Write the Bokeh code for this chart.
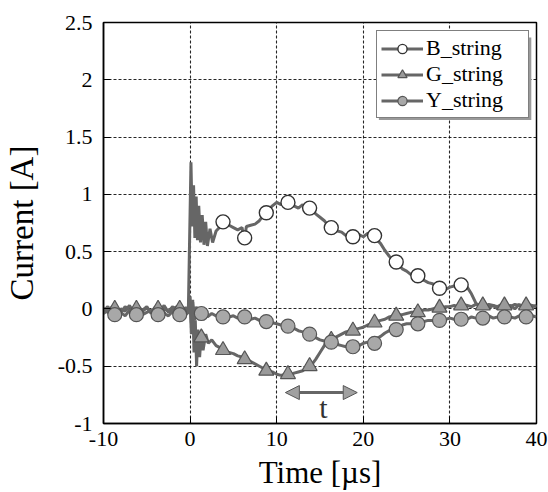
from bokeh.plotting import figure
from bokeh.models import (Range1d, FixedTicker, Legend, LegendItem, Arrow, NormalHead, Label, BoxAnnotation)
from bokeh.embed import file_html
from bokeh.resources import INLINE

# ---------------- data ----------------
x_ticks = [-10, 0, 10, 20, 30, 40]
x_tick_labels = ["-10", "0", "10", "20", "30", "40"]
y_ticks = [-1, -0.5, 0, 0.5, 1, 1.5, 2, 2.5]
y_tick_labels = ["-1", "-0.5", "0", "0.5", "1", "1.5", "2", "2.5"]
series_names = ["B_string", "G_string", "Y_string"]

B_t = [-10, -9.5, -9, -8.5, -8, -7.5, -7, -6.5, -6, -5.5, -5, -4.5, -4, -3.5, -3, -2.5, -2, -1.5, -1, -0.5,
       -0.2, 0.0, 0.1, 0.25, 0.4, 0.55, 0.7, 0.85, 1.0, 1.2, 1.4, 1.6, 1.8, 2.0, 2.3, 2.6, 3.0,
       3.5, 4.0, 4.5, 5.0, 5.5, 6.0, 6.25,
       6.5, 7, 7.5, 8, 8.5, 9, 9.5, 10, 10.5, 11,
       11.5, 12, 12.5, 13, 13.5, 14, 14.5, 15, 15.5, 16,
       16.5, 17, 17.5, 18, 18.5, 19, 19.5, 20, 20.5, 21,
       21.5, 22, 22.5, 23, 23.5, 24, 24.5, 25, 25.5, 26,
       26.5, 27, 27.5, 28, 28.5, 29, 29.5, 30, 30.5, 31,
       31.5, 32, 32.5, 33, 33.5,
       34, 34.5, 35, 35.5, 36, 36.5, 37, 37.5, 38, 38.5, 39, 39.5, 40]
B_i = [0.01, -0.03, 0.02, -0.04, 0.0, -0.02, 0.03, -0.03, 0.01, -0.01, 0.02, -0.04, 0.01, -0.02, 0.03, -0.03, 0.0, 0.02, -0.02, 0.01,
       0.0, 0.85, 1.28, 0.72, 1.08, 0.62, 0.98, 0.6, 0.9, 0.58, 0.82, 0.56, 0.76, 0.55, 0.7, 0.58, 0.68,
       0.72, 0.76, 0.73, 0.71, 0.69, 0.71, 0.6,
       0.72, 0.73, 0.74, 0.77, 0.82, 0.86, 0.9, 0.93, 0.91, 0.94,
       0.92, 0.9, 0.88, 0.91, 0.86, 0.88, 0.83, 0.8, 0.77, 0.72,
       0.73, 0.68, 0.67, 0.64, 0.63, 0.66, 0.65, 0.63, 0.66, 0.65,
       0.61, 0.57, 0.51, 0.46, 0.42, 0.39, 0.35, 0.33, 0.3, 0.29,
       0.26, 0.25, 0.23, 0.22, 0.19, 0.18, 0.17, 0.19, 0.2, 0.21,
       0.2, 0.19, 0.13, 0.05, 0.02,
       0.04, 0.01, 0.03, 0.0, 0.04, 0.02, 0.03, 0.0, 0.04, 0.01, 0.03, 0.02, 0.03]

G_t = [-10, -9.5, -9, -8.5, -8, -7.5, -7, -6.5, -6, -5.5, -5, -4.5, -4, -3.5, -3, -2.5, -2, -1.5, -1, -0.5,
       -0.2, 0.0, 0.15, 0.3, 0.45, 0.6, 0.75, 0.9, 1.1, 1.3, 1.5, 1.8, 2.1, 2.5,
       3, 3.5, 4, 4.5, 5, 5.5, 6, 6.5, 7, 7.5,
       8, 8.5, 9, 9.5, 10, 10.5, 11, 11.5, 12, 12.5,
       13, 13.5, 14, 14.5, 15, 15.5, 16, 16.5, 17, 17.5,
       18, 18.5, 19, 19.5, 20, 20.5, 21, 21.5, 22, 22.5,
       23, 23.5, 24, 24.5, 25, 25.5, 26, 26.5, 27, 27.5,
       28, 28.5, 29, 29.5, 30, 30.5, 31, 31.5, 32, 32.5,
       33, 33.5, 34, 34.5, 35, 35.5, 36, 36.5, 37, 37.5,
       38, 38.5, 39, 39.5, 40]
G_i = [-0.02, 0.02, -0.04, 0.01, -0.03, 0.02, -0.01, -0.04, 0.02, -0.02, 0.01, -0.03, 0.02, -0.04, 0.0, -0.02, 0.02, -0.03, 0.01, -0.02,
       -0.02, 0.05, -0.22, 0.08, -0.38, -0.1, -0.5, -0.18, -0.42, -0.2, -0.36, -0.22, -0.3, -0.27,
       -0.32, -0.34, -0.36, -0.38, -0.39, -0.41, -0.42, -0.44, -0.46, -0.48,
       -0.5, -0.52, -0.54, -0.55, -0.57, -0.58, -0.57, -0.58, -0.56, -0.55,
       -0.54, -0.51, -0.49, -0.44, -0.38, -0.32, -0.28, -0.26, -0.24, -0.22,
       -0.2, -0.19, -0.18, -0.17, -0.16, -0.14, -0.13, -0.11, -0.1, -0.09,
       -0.07, -0.06, -0.05, -0.05, -0.04, -0.03, -0.03, -0.02, -0.01, -0.01,
       0.0, 0.01, 0.01, 0.02, 0.02, 0.03, 0.02, 0.04, 0.03, 0.02,
       0.04, 0.03, 0.02, 0.04, 0.03, 0.02, 0.04, 0.03, 0.02, 0.04,
       0.03, 0.02, 0.04, 0.03, 0.02]

Y_t = [-10, -9.5, -9, -8.5, -8, -7.5, -7, -6.5, -6, -5.5, -5, -4.5, -4, -3.5, -3, -2.5, -2, -1.5, -1, -0.5,
       -0.2, 0.0, 0.15, 0.3, 0.5, 0.7, 1.0, 1.5, 2.0, 2.5,
       3, 3.5, 4, 4.5, 5, 5.5, 6, 6.5, 7, 7.5,
       8, 8.5, 9, 9.5, 10, 10.5, 11, 11.5, 12, 12.5,
       13, 13.5, 14, 14.5, 15, 15.5, 16, 16.5, 17, 17.5,
       18, 18.5, 19, 19.5, 20, 20.5, 21, 21.5, 22, 22.5,
       23, 23.5, 24, 24.5, 25, 25.5, 26, 26.5, 27, 27.5,
       28, 28.5, 29, 29.5, 30, 30.5, 31, 31.5, 32, 32.5,
       33, 33.5, 34, 34.5, 35, 35.5, 36, 36.5, 37, 37.5,
       38, 38.5, 39, 39.5, 40]
Y_i = [-0.04, -0.01, -0.05, -0.02, -0.03, -0.06, -0.01, -0.04, -0.02, -0.05, -0.03, -0.01, -0.05, -0.02, -0.04, -0.06, -0.02, -0.04, -0.01, -0.05,
       -0.03, 0.11, -0.12, 0.06, -0.1, 0.02, -0.08, -0.02, -0.07, -0.04,
       -0.06, -0.07, -0.05, -0.07, -0.06, -0.08, -0.07, -0.08, -0.09, -0.08,
       -0.1, -0.11, -0.12, -0.12, -0.13, -0.14, -0.15, -0.16, -0.17, -0.19,
       -0.2, -0.22, -0.23, -0.25, -0.27, -0.28, -0.3, -0.31, -0.31, -0.32,
       -0.33, -0.33, -0.32, -0.32, -0.3, -0.29, -0.28, -0.26, -0.24, -0.21,
       -0.19, -0.17, -0.16, -0.14, -0.13, -0.13, -0.12, -0.11, -0.11, -0.1,
       -0.1, -0.09, -0.1, -0.09, -0.08, -0.09, -0.08, -0.08, -0.09, -0.07,
       -0.08, -0.07, -0.08, -0.06, -0.08, -0.07, -0.08, -0.06, -0.07, -0.08,
       -0.06, -0.07, -0.08, -0.06, -0.07]

# markers (visible ones, roughly every 2.5 us)
B_mk_t = [3.8, 6.3, 8.8, 11.3, 13.8, 16.3, 18.8, 21.3, 23.8, 26.3, 28.8, 31.3]
B_mk = [0.76, 0.62, 0.84, 0.93, 0.88, 0.71, 0.63, 0.64, 0.41, 0.29, 0.18, 0.21]
mk_t = [-8.7, -6.2, -3.7, -1.2, 1.3, 3.8, 6.3, 8.8, 11.3, 13.8, 16.3, 18.8, 21.3, 23.8, 26.3, 28.8, 31.3, 33.8, 36.3, 38.8]
G_mk = [0.0, 0.0, 0.0, 0.0, -0.25, -0.36, -0.44, -0.54, -0.57, -0.5, -0.27, -0.19, -0.12, -0.06, -0.03, 0.01, 0.03, 0.03, 0.03, 0.03]
Y_mk = [-0.05, -0.05, -0.05, -0.05, -0.04, -0.07, -0.07, -0.11, -0.15, -0.22, -0.29, -0.33, -0.3, -0.18, -0.13, -0.1, -0.09, -0.08, -0.07, -0.07]

assert len(B_t) == len(B_i) and len(G_t) == len(G_i) and len(Y_t) == len(Y_i)

SERIF = "Liberation Serif, DejaVu Serif, serif"
LINE = "#666666"

p = figure(width=548, height=492, x_range=Range1d(-10, 40), y_range=Range1d(-1, 2.5),
           output_backend="svg", toolbar_location=None,
           min_border_left=100, min_border_right=12, min_border_top=22, min_border_bottom=62)

p.background_fill_color = "white"
p.outline_line_color = "black"
p.outline_line_width = 1.5

for ax in (p.xaxis[0], p.yaxis[0]):
    ax.axis_line_color = "black"
    ax.axis_line_width = 1.5
    ax.major_tick_in = 7
    ax.major_tick_out = 0
    ax.minor_tick_line_color = None
    ax.major_tick_line_color = "black"
    ax.major_label_text_font = SERIF
    ax.major_label_text_font_style = "normal"
    ax.major_label_text_font_size = "22px"
    ax.major_label_text_color = "black"
    ax.axis_label_text_font = SERIF
    ax.axis_label_text_font_style = "normal"
    ax.axis_label_text_color = "black"

p.xaxis.ticker = FixedTicker(ticks=x_ticks)
p.yaxis.ticker = FixedTicker(ticks=y_ticks)
p.xaxis.major_label_overrides = {t: s for t, s in zip(x_ticks, x_tick_labels)}
p.yaxis.major_label_overrides = {t: s for t, s in zip(y_ticks, y_tick_labels)}
p.xaxis.axis_label = "Time [\u00b5s]"
p.yaxis.axis_label = "Current [A]"
p.xaxis.axis_label_text_font_size = "31px"
p.yaxis.axis_label_text_font_size = "33px"
p.xaxis.major_label_standoff = 8
p.yaxis.major_label_standoff = 11
p.xaxis.axis_label_standoff = 6
p.yaxis.axis_label_standoff = 15

for g in (p.xgrid[0], p.ygrid[0]):
    g.grid_line_color = "black"
    g.grid_line_dash = "3 2"
    g.grid_line_width = 1.1
    g.grid_line_alpha = 0.85

# B first, then G, then Y on top (as in the reference)
bl = p.line(B_t, B_i, line_color=LINE, line_width=3)
bm = p.scatter(B_mk_t, B_mk, marker="circle", size=14, fill_color="white", line_color="#333333", line_width=1.4)
gl = p.line(G_t, G_i, line_color=LINE, line_width=3)
gm = p.scatter(mk_t, G_mk, marker="triangle", size=15, fill_color="#9a9a9a", line_color="#555555", line_width=1.2)
yl = p.line(Y_t, Y_i, line_color=LINE, line_width=3)
ym = p.scatter(mk_t, Y_mk, marker="circle", size=14, fill_color="#a8a8a8", line_color="#555555", line_width=1.2)

# legend drop shadow (behind the legend box)
p.add_layout(BoxAnnotation(left=21.8, right=39.4, top=2.37, bottom=1.65,
                           fill_color="#9a9a9a", fill_alpha=1.0, line_color=None))

legend = Legend(items=[LegendItem(label=n, renderers=r) for n, r in
                       zip(series_names, [[bl, bm], [gl, gm], [yl, ym]])],
                location=(273, 305))
legend.label_text_font = SERIF
legend.label_text_font_style = "normal"
legend.label_text_font_size = "22px"
legend.label_text_color = "black"
legend.glyph_width = 42
legend.glyph_height = 23
legend.label_height = 23
legend.label_width = 98
legend.label_standoff = 3
legend.spacing = 0
legend.padding = 4
legend.margin = 0
legend.border_line_color = "black"
legend.border_line_width = 1.5
legend.background_fill_color = "white"
legend.background_fill_alpha = 1.0
p.add_layout(legend)

# annotation: t arrow
arrow = Arrow(start=NormalHead(size=14, fill_color="#a0a0a0", line_color="#555555"),
              end=NormalHead(size=14, fill_color="#a0a0a0", line_color="#555555"),
              x_start=11.0, y_start=-0.73, x_end=19.3, y_end=-0.73,
              line_color="#666666", line_width=3)
p.add_layout(arrow)
p.add_layout(Label(x=15.4, y=-0.86, text="t", text_font=SERIF, text_font_size="30px",
                   text_align="center", text_baseline="middle", text_color="#333333"))

open("out.html", "w").write(file_html(p, INLINE))
